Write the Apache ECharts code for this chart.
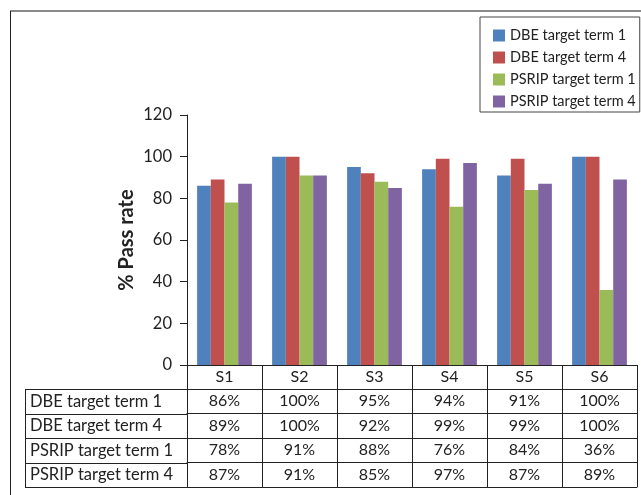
<!DOCTYPE html>
<html>
<head>
<meta charset="utf-8">
<script src="https://cdn.jsdelivr.net/npm/echarts@6/dist/echarts.min.js"></script>
<style>
  html, body { margin: 0; padding: 0; background: #fff; }
  #chart { width: 641px; height: 495px; }
</style>
</head>
<body>
<div id="chart"></div>
<script>
// data
const schools = ['S1', 'S2', 'S3', 'S4', 'S5', 'S6'];
const seriesNames = ['DBE target term 1', 'DBE target term 4', 'PSRIP target term 1', 'PSRIP target term 4'];
const dbeTerm1 = [86, 100, 95, 94, 91, 100];
const dbeTerm4 = [89, 100, 92, 99, 99, 100];
const psripTerm1 = [78, 91, 88, 76, 84, 36];
const psripTerm4 = [87, 91, 85, 97, 87, 89];
const yTicks = [0, 20, 40, 60, 80, 100, 120];

const rows = [dbeTerm1, dbeTerm4, psripTerm1, psripTerm4];
const colors = ['#4F81BD', '#C0504D', '#9BBB59', '#8064A2'];

// layout
const gridLeft = 187, gridTop = 115, plotW = 450, plotH = 250;
const headerH = 24, rowH = 24.5, tableLeft = 25;
const font = 'Lato';
const lineColor = '#222';

const chart = echarts.init(document.getElementById('chart'));

// header row: the category axis
const xAxes = [{
  type: 'category',
  data: schools,
  position: 'bottom',
  axisLine: { lineStyle: { color: lineColor } },
  axisTick: { show: false },
  axisLabel: { margin: 4, fontSize: 16, color: '#222', fontFamily: font }
}];

// one axis per table row
rows.forEach((vals, i) => {
  xAxes.push({
    type: 'category',
    data: schools,
    position: 'bottom',
    offset: headerH + i * rowH,
    name: seriesNames[i],
    nameLocation: 'start',
    nameGap: gridLeft - tableLeft - 5,
    nameTextStyle: {
      align: 'left', verticalAlign: 'top', padding: [4, 0, 0, 0],
      fontSize: 16.5, color: '#222', fontFamily: font
    },
    axisLine: { lineStyle: { color: lineColor } },
    axisTick: { show: false },
    axisLabel: {
      margin: 4, fontSize: 16, color: '#222', fontFamily: font,
      formatter: (v, idx) => vals[idx] + '%'
    }
  });
});

// bottom border of the table
xAxes.push({
  type: 'category',
  data: schools,
  position: 'bottom',
  offset: headerH + rows.length * rowH,
  axisLine: { lineStyle: { color: lineColor } },
  axisTick: { show: false },
  axisLabel: { show: false }
});

const tableTop = gridTop + plotH + headerH;
const tableBottom = tableTop + rows.length * rowH;
const plotBottom = gridTop + plotH;
const line = (x1, y1, x2, y2, stroke, lineWidth) =>
  ({ type: 'line', z: 10, shape: { x1, y1, x2, y2 }, style: { stroke, lineWidth } });

const graphics = [
  // outer frame
  line(10, 11, 660, 11, '#8a8a8a', 2),
  line(10.5, 11, 10.5, 500, '#222', 1),
  // left edge of the row-label column
  line(tableLeft + 0.5, tableTop, tableLeft + 0.5, tableBottom, lineColor, 1)
];
for (let i = 0; i <= rows.length; i++) {
  const y = Math.round(tableTop + i * rowH) + 0.5;
  graphics.push(line(tableLeft, y, gridLeft, y, lineColor, 1));
}
// column separators at the category boundaries
const band = plotW / schools.length;
for (let k = 0; k <= schools.length; k++) {
  const x = Math.round(gridLeft + k * band) + 0.5;
  graphics.push(line(x, plotBottom, x, tableBottom, lineColor, 1));
}

chart.setOption({
  animation: false,
  textStyle: { fontFamily: font },
  graphic: graphics,
  legend: {
    orient: 'vertical',
    left: 480,
    top: 17,
    padding: [11, 4, 3, 13],
    borderColor: '#444',
    borderWidth: 1,
    itemWidth: 12,
    itemHeight: 12,
    itemGap: 7,
    icon: 'rect',
    textStyle: { fontSize: 14.5, lineHeight: 14, color: '#222', fontFamily: font },
    data: seriesNames
  },
  grid: { left: gridLeft, top: gridTop, width: plotW, height: plotH },
  xAxis: xAxes,
  yAxis: {
    type: 'value',
    min: 0,
    max: 120,
    interval: 20,
    name: '% Pass rate',
    nameLocation: 'middle',
    nameGap: 50,
    nameMoveOverlap: false,
    nameTextStyle: { fontSize: 20, fontWeight: 'bold', color: '#222', fontFamily: font },
    axisLine: { show: true, lineStyle: { color: lineColor } },
    axisTick: { show: true, length: 7, lineStyle: { color: lineColor } },
    splitLine: { show: false },
    axisLabel: {
      margin: 15, fontSize: 16.5, color: '#222', fontFamily: font,
      customValues: yTicks
    }
  },
  series: rows.map((vals, i) => ({
    name: seriesNames[i],
    type: 'bar',
    data: vals,
    barGap: '0%',
    barCategoryGap: '27%',
    itemStyle: { color: colors[i] }
  }))
});
</script>
</body>
</html>
